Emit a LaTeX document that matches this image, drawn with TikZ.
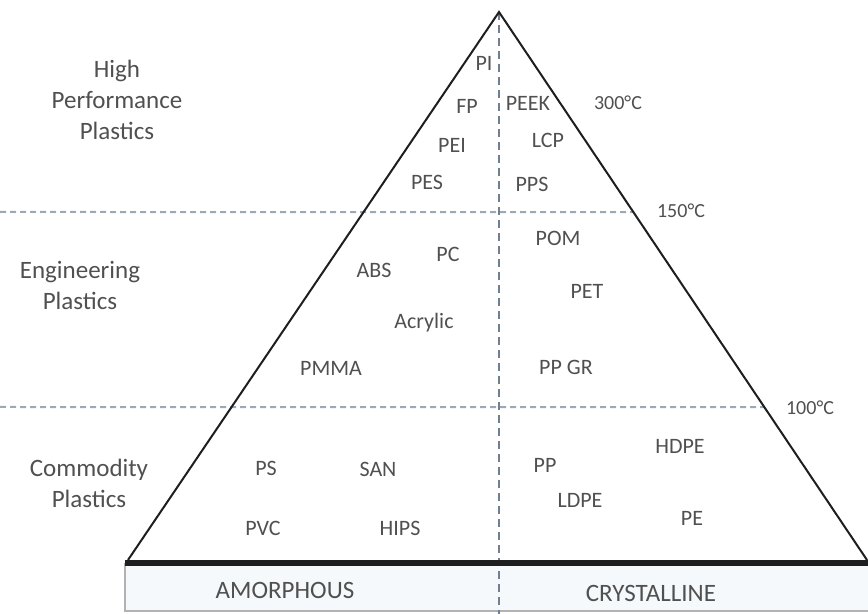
\documentclass[tikz,border=0pt]{standalone}
\usepackage{fontspec}
\setmainfont{Carlito}
\usetikzlibrary{calc}
\definecolor{ink}{HTML}{1E1E1E}
\definecolor{txtgray}{HTML}{505050}
\definecolor{dashblue}{HTML}{9AA8B8}
\definecolor{axisblue}{HTML}{708093}
\definecolor{boxbg}{HTML}{F6F9FB}

\begin{document}
\begin{tikzpicture}[x=0.5pt,y=-0.5pt,
  poly/.style={font=\fontsize{11}{13}\selectfont,text=txtgray,inner sep=0pt},
  tier/.style={font=\fontsize{12.5}{15.5}\selectfont,text=txtgray,align=center,inner sep=0pt},
  temp/.style={font=\fontsize{10}{12}\selectfont,text=txtgray,inner sep=0pt},
  level/.style={dashblue,line width=1pt,dash pattern=on 3pt off 2pt}]
\useasboundingbox (0,0) rectangle (868,614);
\coordinate (apex) at (499,12);
\coordinate (bl) at (128,560);
\coordinate (br) at (867,560);
% base box
\fill[boxbg] (125,563) rectangle (868,611);
\draw[gray!60,line width=0.8pt] (125,563) -- (125,611) -- (868,611);
\node[tier] (amorph) at (285,590) {AMORPHOUS};
\node[tier] (cryst) at (651,593) {CRYSTALLINE};
% temperature levels
\coordinate (l150) at ($(apex)!0.365!(br)$);
\coordinate (l100) at ($(apex)!0.721!(br)$);
\coordinate (w150) at (0,212);
\coordinate (w100) at (0,407);
\draw[level] (w150) -- (l150);
\draw[level] (w100) -- (l100);
\coordinate (foot) at (499,614);
\draw[axisblue,line width=1pt,dash pattern=on 4pt off 2.5pt] (apex) -- (foot);
\draw[ink,line width=1pt] (bl) -- (apex) -- (br);
\draw[ink,line width=3pt] (125,563) -- (868,563);
\node[temp] (t300) at (618,103) {300°C};
\node[temp] (t150) at (681,211) {150°C};
\node[temp] (t100) at (810,408) {100°C};
% tiers
\node[tier] (high) at (117,100) {High\\Performance\\Plastics};
\node[tier] (eng) at (80,285) {Engineering\\Plastics};
\node[tier] (comm) at (89,483) {Commodity\\Plastics};
% polymers
\foreach \x/\y/\name/\txt in {484/63/pi/PI,467/106/fp/FP,528/103/peek/PEEK,452/145/pei/PEI,
  548/140/lcp/LCP,427/182/pes/PES,532/184/pps/PPS,
  374/270/abs/ABS,448/254/pc/PC,424/323/acryl/Acrylic,331/368/pmma/PMMA,
  558/238/pom/POM,587/291/pet/PET,566/367/ppgr/PP GR,
  266/468/ps/PS,378/469/san/SAN,263/528/pvc/PVC,400/528/hips/HIPS,
  545/465/pp/PP,680/446/hdpe/HDPE,580/500/ldpe/LDPE,692/518/pe/PE}{
  \node[poly] (\name) at (\x,\y) {\txt};
}
\end{tikzpicture}
\end{document}
